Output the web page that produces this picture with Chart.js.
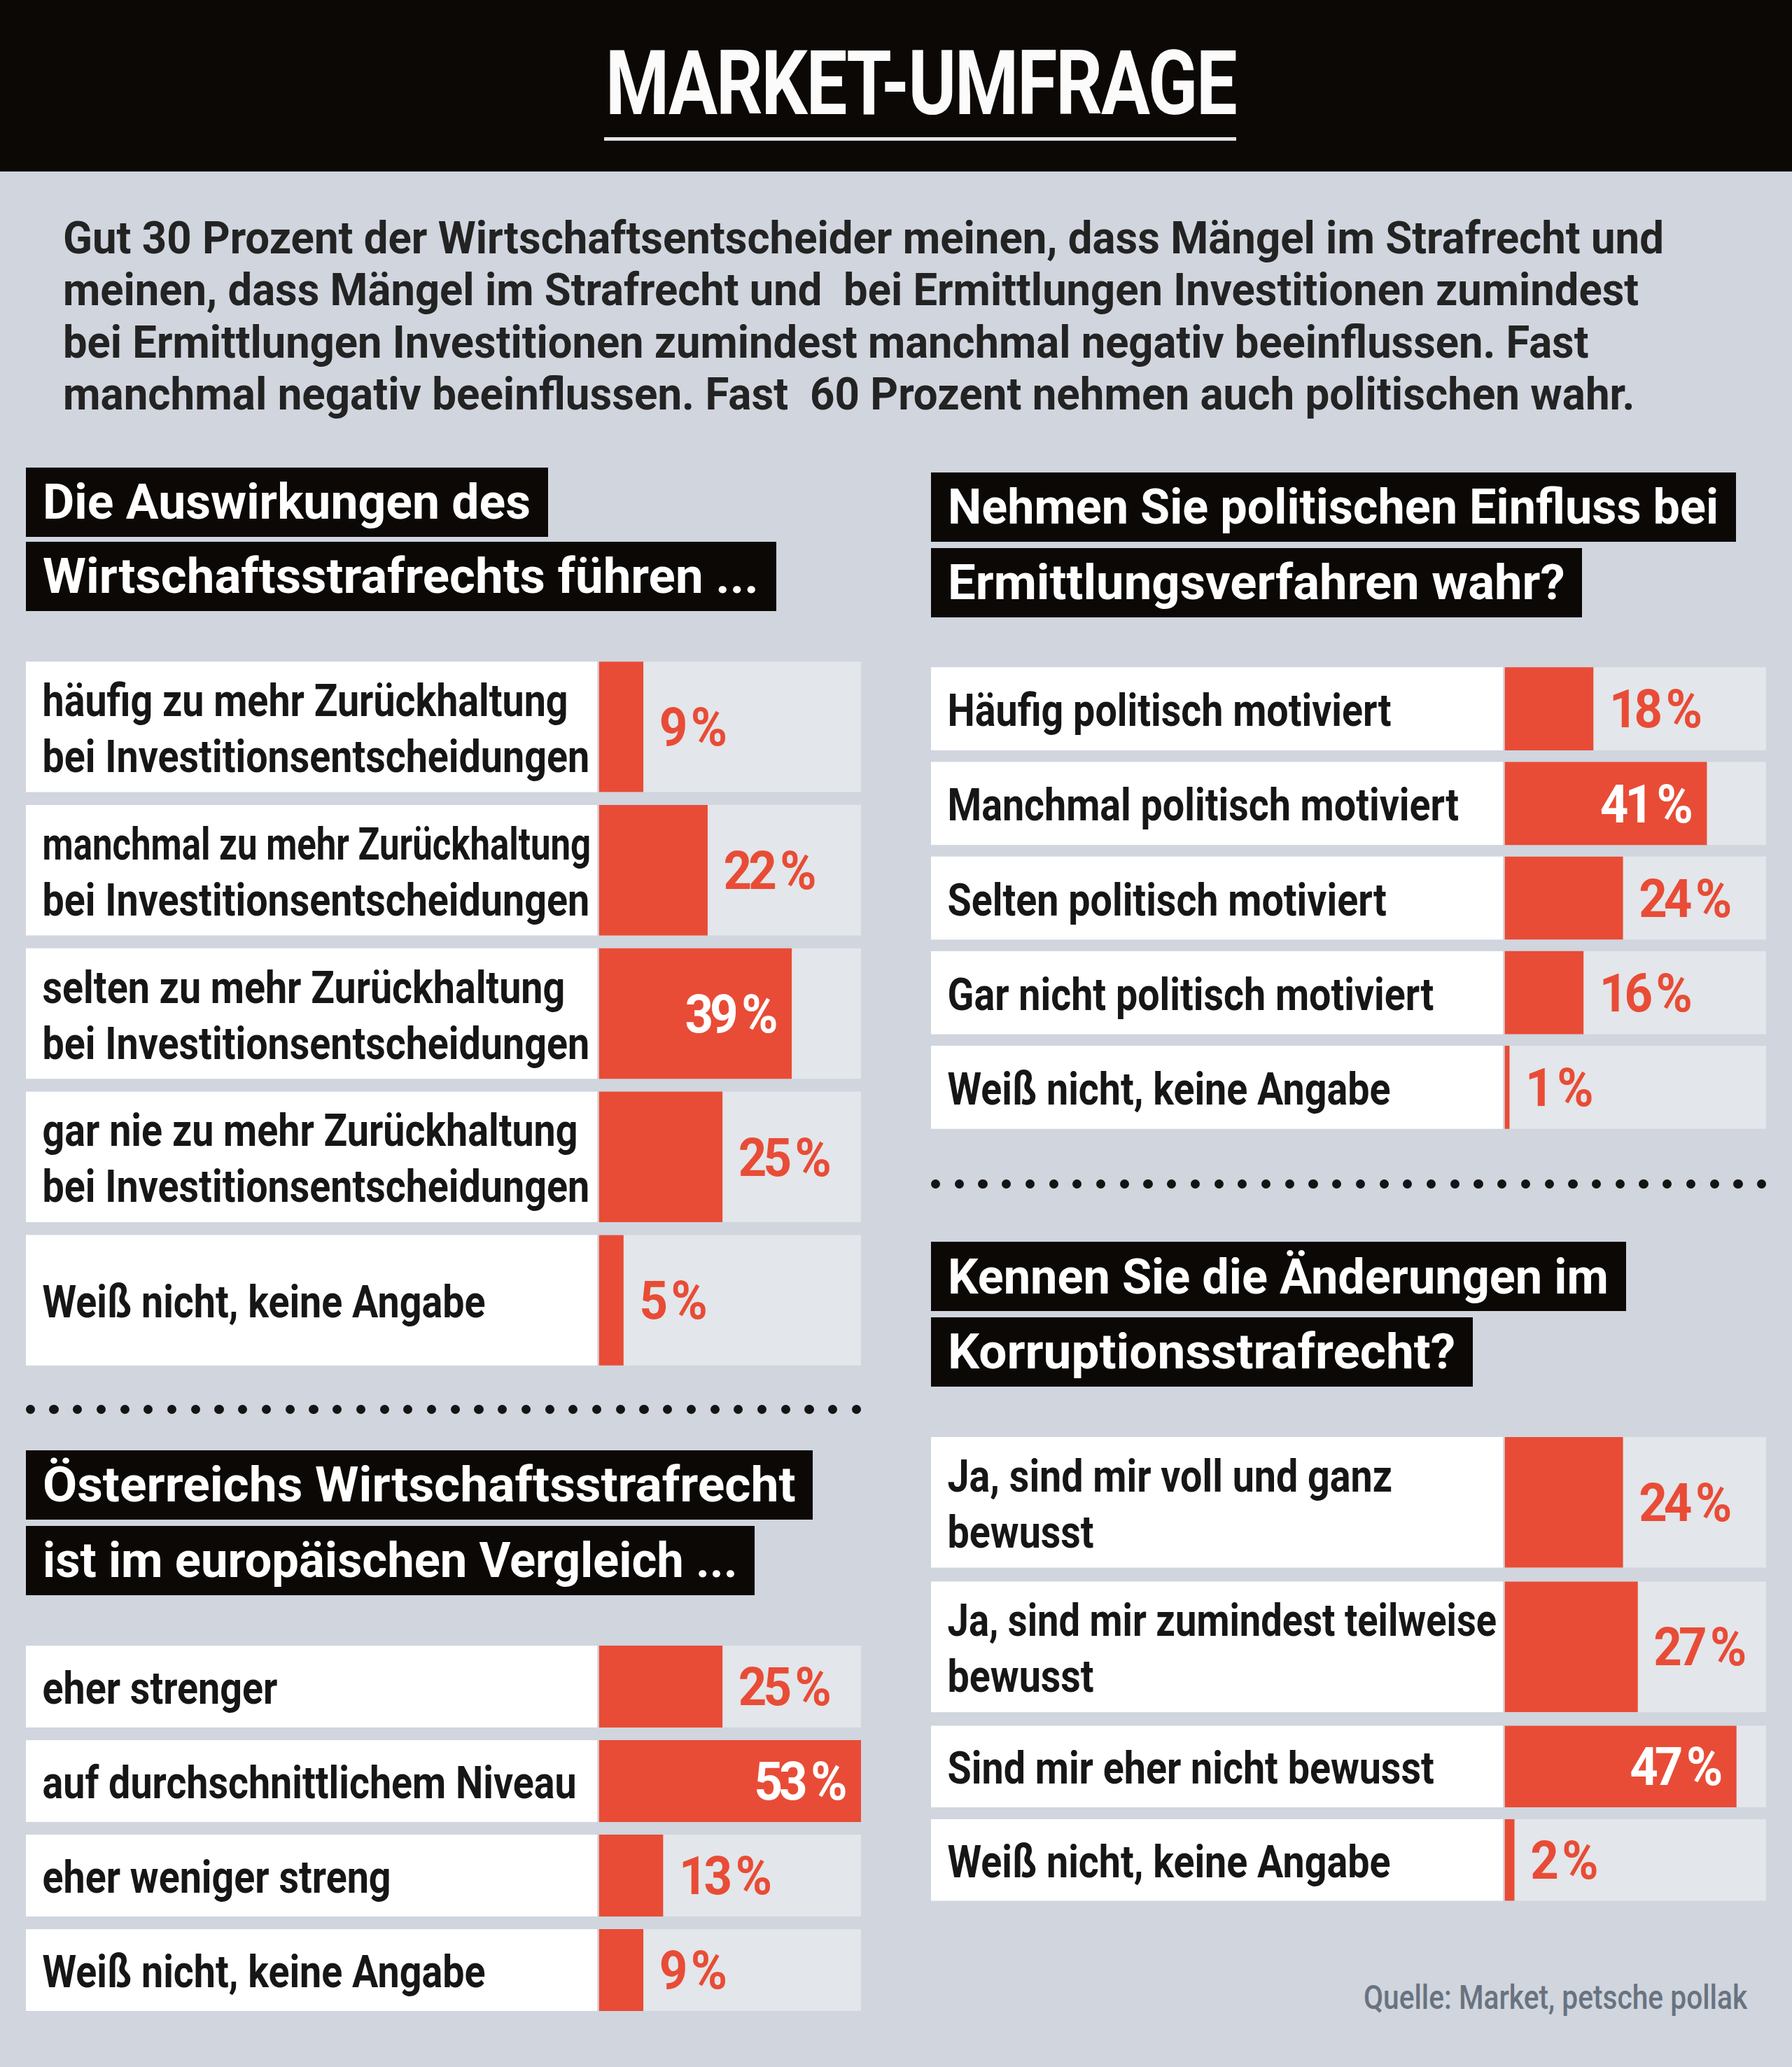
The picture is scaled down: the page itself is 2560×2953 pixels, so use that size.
<!DOCTYPE html>
<html>
<head>
<meta charset="utf-8">
<script src="https://cdn.jsdelivr.net/npm/chart.js@4.4.1/dist/chart.umd.min.js"></script>
<style>
  html, body { margin:0; padding:0; }
  body { width:2560px; height:2953px; background:#d0d5de; position:relative; overflow:hidden; }
  .abs { position:absolute; }
  .fit { display:inline-block; white-space:pre; transform-origin:0 0; }
</style>
</head>
<body>
<script>
// ---------- DATA ----------
const titleText = 'MARKET-UMFRAGE';
const introLines = [
  'Gut 30 Prozent der Wirtschaftsentscheider meinen, dass Mängel im Strafrecht und',
  'meinen, dass Mängel im Strafrecht und  bei Ermittlungen Investitionen zumindest',
  'bei Ermittlungen Investitionen zumindest manchmal negativ beeinflussen. Fast',
  'manchmal negativ beeinflussen. Fast  60 Prozent nehmen auch politischen wahr.'
];
const q1Title = ['Die Auswirkungen des', 'Wirtschaftsstrafrechts führen ...'];
const q1Labels = [
  ['häufig zu mehr Zurückhaltung', 'bei Investitionsentscheidungen'],
  ['manchmal zu mehr Zurückhaltung', 'bei Investitionsentscheidungen'],
  ['selten zu mehr Zurückhaltung', 'bei Investitionsentscheidungen'],
  ['gar nie zu mehr Zurückhaltung', 'bei Investitionsentscheidungen'],
  ['Weiß nicht, keine Angabe']
];
const q1Values = [9, 22, 39, 25, 5];

const q2Title = ['Österreichs Wirtschaftsstrafrecht', 'ist im europäischen Vergleich ...'];
const q2Labels = ['eher strenger', 'auf durchschnittlichem Niveau', 'eher weniger streng', 'Weiß nicht, keine Angabe'];
const q2Values = [25, 53, 13, 9];

const q3Title = ['Nehmen Sie politischen Einfluss bei', 'Ermittlungsverfahren wahr?'];
const q3Labels = ['Häufig politisch motiviert', 'Manchmal politisch motiviert', 'Selten politisch motiviert', 'Gar nicht politisch motiviert', 'Weiß nicht, keine Angabe'];
const q3Values = [18, 41, 24, 16, 1];

const q4Title = ['Kennen Sie die Änderungen im', 'Korruptionsstrafrecht?'];
const q4Labels = [
  ['Ja, sind mir voll und ganz', 'bewusst'],
  ['Ja, sind mir zumindest teilweise', 'bewusst'],
  'Sind mir eher nicht bewusst',
  'Weiß nicht, keine Angabe'
];
const q4Values = [24, 27, 47, 2];

const axisMax = 53;
const sourceText = 'Quelle: Market, petsche pollak';

// ---------- STYLE / LAYOUT ----------
const S = 2560 / 1359;
const D = v => v * S;
const RED = '#e84c36';
const BAR_BG = '#e3e6ea';
const LABEL_FONT = 'bold %px Roboto, "Liberation Sans", sans-serif';
const VALUE_FONT = 'bold %px Roboto, "Liberation Sans", sans-serif';
const PCT = '\u2009%';

Chart.defaults.devicePixelRatio = 1;

const toFit = [];
function textDiv(text, opts) {
  const d = document.createElement('div');
  d.className = 'abs';
  d.style.left = D(opts.x) + 'px';
  d.style.top = (D(opts.cy) - D(opts.fs) * 0.5) + 'px';
  d.style.font = opts.font.replace('%', D(opts.fs));
  d.style.lineHeight = D(opts.fs) + 'px';
  d.style.color = opts.color;
  if (opts.ls) d.style.letterSpacing = opts.ls;
  const s = document.createElement('span');
  s.className = 'fit';
  s.textContent = text;
  d.appendChild(s);
  (opts.parent || document.body).appendChild(d);
  toFit.push([s, D(opts.w)]);
  return d;
}
function box(x, y, w, h, color) {
  const b = document.createElement('div');
  b.className = 'abs';
  Object.assign(b.style, { left: D(x) + 'px', top: D(y) + 'px', width: D(w) + 'px', height: D(h) + 'px', background: color });
  document.body.appendChild(b);
  return b;
}

// header
box(0, 0, 1359, 130, '#0c0805');
textDiv(titleText, { x: 459, cy: 63, fs: 68, w: 478, color: '#fbfbfb', font: 'bold %px Roboto, "Liberation Sans", sans-serif', ls: '-0.02em' });
box(458, 104.3, 479.5, 2.6, '#e6e6e6');

// intro
const introCy = [181, 220.5, 260, 299.5];
const introW = [1214, 1195, 1157, 1192];
introLines.forEach((t, i) => textDiv(t, { x: 48, cy: introCy[i], fs: 34, w: introW[i], color: '#232323', font: 'bold %px Roboto, "Liberation Sans", sans-serif' }));

// heading boxes
function heading(lines, x, tops, widths) {
  lines.forEach((t, i) => {
    box(x, tops[i], widths[i], 52.5, '#0c0805');
    textDiv(t, { x: x + 13, cy: tops[i] + 26.5, fs: 37, w: widths[i] - 26, color: '#ffffff', font: 'bold %px Roboto, "Liberation Sans", sans-serif' });
  });
}
heading(q1Title, 19.5, [354.5, 411], [396, 569]);
heading(q2Title, 19.5, [1100, 1157.5], [597, 553]);
heading(q3Title, 706, [358.5, 415.5], [610.5, 494]);
heading(q4Title, 706, [942, 999], [527, 411]);

// dotted separators
function dots(x0, x1, cy) {
  const n = 36, d = 7;
  const pitch = (x1 - x0 - d) / (n - 1);
  for (let i = 0; i < n; i++) {
    const b = box(x0 + i * pitch, cy - d / 2, d, d, '#141414');
    b.style.borderRadius = '50%';
  }
}
dots(19.5, 653, 1069);
dots(706, 1339.5, 898);

// source
textDiv(sourceText, { x: 1034, cy: 1515, fs: 26, w: 291, color: '#69737f', font: '500 %px Roboto, "Liberation Sans", sans-serif' });

// ---------- CHARTS ----------
const rowPlugin = {
  id: 'rows',
  beforeDatasetsDraw(chart) {
    const { ctx, chartArea } = chart;
    const meta = chart.getDatasetMeta(0);
    ctx.save();
    meta.data.forEach(el => {
      const t = el.y - el.height / 2;
      ctx.fillStyle = '#ffffff';
      ctx.fillRect(0, t, chartArea.left - D(1.2), el.height);
      ctx.fillStyle = BAR_BG;
      ctx.fillRect(chartArea.left, t, chartArea.right - chartArea.left, el.height);
    });
    ctx.restore();
  },
  afterDatasetsDraw(chart) {
    const { ctx, chartArea } = chart;
    const meta = chart.getDatasetMeta(0);
    const values = chart.data.datasets[0].data;
    const fsL = D(34), fsV = D(40), lineH = D(42.5);
    const lsV = (-0.07 * fsV) + 'px';
    ctx.save();
    ctx.font = LABEL_FONT.replace('%', fsL);
    const kL = D(336) / ctx.measureText('Weiß nicht, keine Angabe').width;
    ctx.font = VALUE_FONT.replace('%', fsV);
    ctx.letterSpacing = lsV;
    const kV = D(68) / ctx.measureText('24' + PCT).width;
    ctx.letterSpacing = '0px';
    const maxLW = (chartArea.left - D(12.5) - D(6)) / kL;
    meta.data.forEach((el, i) => {
      const lbl = chart.data.labels[i];
      const lines = Array.isArray(lbl) ? lbl : [lbl];
      ctx.font = LABEL_FONT.replace('%', fsL);
      ctx.letterSpacing = '0px';
      ctx.fillStyle = '#161616';
      ctx.textAlign = 'left';
      ctx.textBaseline = 'alphabetic';
      lines.forEach((ln, j) => {
        const cy = el.y + D(1) + (j - (lines.length - 1) / 2) * lineH;
        ctx.save();
        ctx.translate(D(12.5), cy + 0.355 * fsL);
        ctx.scale(kL, 1);
        ctx.fillText(ln, 0, 0, maxLW);
        ctx.restore();
      });
      const v = values[i];
      const inside = v >= 35;
      ctx.font = VALUE_FONT.replace('%', fsV);
      ctx.letterSpacing = lsV;
      ctx.fillStyle = inside ? '#ffffff' : RED;
      ctx.textAlign = inside ? 'right' : 'left';
      ctx.save();
      ctx.translate(inside ? el.x - D(13) : el.x + D(12), el.y + 0.355 * fsV);
      ctx.scale(kV, 1);
      ctx.fillText(v + PCT, 0, 0);
      ctx.restore();
    });
    ctx.restore();
  }
};

function panel(labels, values, L) {
  const n = values.length;
  const c = document.createElement('canvas');
  const w = Math.round(D(L.x1 - L.x0));
  const h = Math.round(D(n * L.pitch));
  c.width = w; c.height = h;
  c.className = 'abs';
  c.style.left = D(L.x0) + 'px';
  c.style.top = D(L.top - (L.pitch - L.barH) / 2) + 'px';
  c.style.width = w + 'px';
  c.style.height = h + 'px';
  document.body.appendChild(c);
  new Chart(c, {
    type: 'bar',
    data: { labels: labels, datasets: [{ data: values, backgroundColor: RED, borderWidth: 0, categoryPercentage: 1, barPercentage: L.barH / L.pitch }] },
    options: {
      indexAxis: 'y', responsive: false, animation: false, devicePixelRatio: 1,
      layout: { padding: { left: D(L.barLeft - L.x0), right: 0, top: 0, bottom: 0 } },
      scales: {
        x: { type: 'linear', min: 0, max: axisMax, display: false },
        y: { type: 'category', display: false }
      },
      plugins: { legend: { display: false }, tooltip: { enabled: false } }
    },
    plugins: [rowPlugin]
  });
}

const leftCol = { x0: 19.5, barLeft: 454, x1: 653 };
const rightCol = { x0: 706, barLeft: 1141, x1: 1339.5 };
panel(q1Labels, q1Values, Object.assign({ top: 502, pitch: 108.75, barH: 99 }, leftCol));
panel(q2Labels, q2Values, Object.assign({ top: 1248, pitch: 71.67, barH: 62 }, leftCol));
panel(q3Labels, q3Values, Object.assign({ top: 506, pitch: 71.75, barH: 63 }, rightCol));
panel(q4Labels.slice(0, 2), q4Values.slice(0, 2), Object.assign({ top: 1090, pitch: 109.5, barH: 99 }, rightCol));
panel(q4Labels.slice(2), q4Values.slice(2), Object.assign({ top: 1309, pitch: 71, barH: 62 }, rightCol));

// fit static texts to their widths
function doFit() {
  toFit.forEach(([s, tw]) => {
    s.style.transform = 'none';
    const w = s.getBoundingClientRect().width;
    if (w > 0) s.style.transform = 'scaleX(' + (tw / w) + ')';
  });
}
doFit();
if (document.fonts && document.fonts.ready) document.fonts.ready.then(doFit);
</script>
</body>
</html>
